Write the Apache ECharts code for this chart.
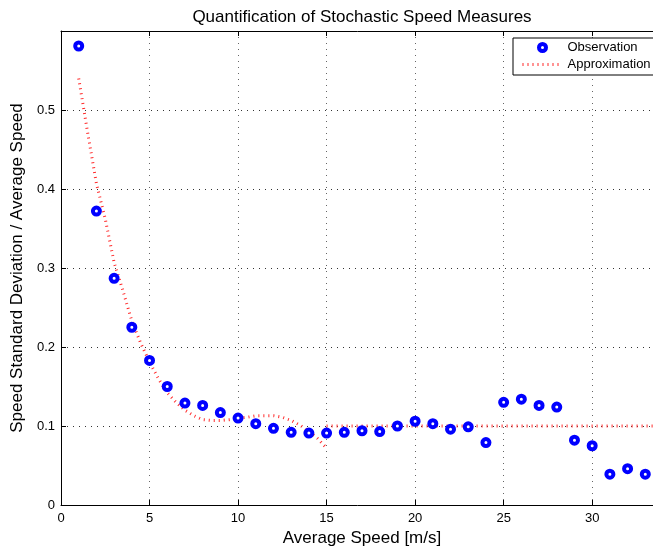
<!DOCTYPE html>
<html>
<head>
<meta charset="utf-8">
<script src="https://cdn.jsdelivr.net/npm/echarts@6/dist/echarts.min.js"></script>
<style>html,body{margin:0;padding:0;background:#fff}#c{width:653px;height:548px}</style>
</head>
<body>
<div id="c"></div>
<script>
// ---- data ----
const titleText = 'Quantification of Stochastic Speed Measures';
const xName = 'Average Speed [m/s]';
const yName = 'Speed Standard Deviation / Average Speed';
const xTicks = [0, 5, 10, 15, 20, 25, 30];
const yTicks = [0, 0.1, 0.2, 0.3, 0.4, 0.5];

const obsX = [1,2,3,4,5,6,7,8,9,10,11,12,13,14,15,16,17,18,19,20,21,22,23,24,25,26,27,28,29,30,31,32,33];
const obsY = [0.581,0.372,0.287,0.225,0.183,0.150,0.129,0.126,0.117,0.110,0.103,0.097,0.092,0.091,0.091,0.092,0.094,0.093,0.100,0.106,0.103,0.096,0.099,0.079,0.130,0.134,0.126,0.124,0.082,0.075,0.039,0.046,0.039];

const approxX = [1,1.5,2,2.5,3,3.5,4,4.5,5,5.5,6,6.5,7,7.5,8,8.5,9,9.5,10,10.5,11,11.5,12,12.5,13,13.5,14,14.5,15];
const approxY = [0.540,0.472,0.407,0.362,0.307,0.271,0.233,0.205,0.181,0.160,0.142,0.130,0.120,0.113,0.108,0.107,0.107,0.108,0.110,0.111,0.113,0.113,0.113,0.111,0.107,0.101,0.093,0.084,0.072];
const flatX = [15, 34];
const flatY = [0.1, 0.1];

const FONT = 'Liberation Sans, Arial, Helvetica, sans-serif';
const xMin = 0, xMax = 34, yMin = 0, yMax = 0.6;
const RED = '#ff2a2a';

const chart = echarts.init(document.getElementById('c'), null, {renderer: 'canvas'});
const zip = (a, b) => a.map((v, i) => [v, b[i]]);

chart.setOption({
  animation: false,
  backgroundColor: '#fff',
  title: {
    text: titleText,
    left: 362, top: 9, padding: 0, textAlign: 'center',
    textStyle: {fontFamily: FONT, fontSize: 17, fontWeight: 'normal', color: '#000'}
  },
  grid: {left: 61, right: -10, top: 31, bottom: 43, containLabel: false, outerBoundsMode: 'none'},
  legend: {
    orient: 'vertical',
    left: 513, top: 38,
    padding: [3, 8, 4, 8],
    itemWidth: 40, itemHeight: 7, itemGap: 4,
    backgroundColor: '#fff', borderColor: '#000', borderWidth: 1, borderRadius: 0,
    textStyle: {fontFamily: FONT, fontSize: 13, color: '#000'},
    data: [
      {name: 'Observation', icon: 'circle', itemStyle: {color: '#fff', borderColor: '#0000ff', borderWidth: 4}},
      {name: 'Approximation', itemStyle: {color: 'transparent', borderColor: 'transparent', borderWidth: 0, opacity: 0},
       lineStyle: {color: RED, width: 3, type: [1, 4], opacity: 1}}
    ]
  },
  xAxis: [{
    type: 'value', min: xMin, max: xMax, interval: 5,
    name: xName, nameLocation: 'middle', nameGap: 21,
    nameTextStyle: {fontFamily: FONT, fontSize: 17, color: '#000'},
    axisLine: {show: true, onZero: false, lineStyle: {color: '#000', width: 1}},
    axisTick: {show: true, inside: true, length: 5, lineStyle: {color: '#000'}},
    axisLabel: {fontFamily: FONT, fontSize: 13, color: '#000', margin: 7,
      formatter: v => xTicks.includes(v) ? String(v) : ''},
    splitLine: {show: true, lineStyle: {color: '#666', type: [1, 5], width: 1}}
  }, {
    type: 'value', min: xMin, max: xMax, interval: 5, position: 'top',
    axisLine: {show: true, onZero: false, lineStyle: {color: '#000', width: 1}},
    axisTick: {show: true, inside: true, length: 5, lineStyle: {color: '#000'}},
    axisLabel: {show: false}, splitLine: {show: false}
  }],
  yAxis: [{
    type: 'value', min: yMin, max: yMax, interval: 0.1,
    name: yName, nameLocation: 'middle', nameGap: 29, nameRotate: 90,
    nameTextStyle: {fontFamily: FONT, fontSize: 17, color: '#000'},
    axisLine: {show: true, onZero: false, lineStyle: {color: '#000', width: 1}},
    axisTick: {show: true, inside: true, length: 5, lineStyle: {color: '#000'}},
    axisLabel: {fontFamily: FONT, fontSize: 13, color: '#000', margin: 6,
      formatter: v => { const r = Math.round(v * 10) / 10; return yTicks.includes(r) && Math.abs(v - r) < 1e-9 ? String(r) : ''; }},
    splitLine: {show: true, lineStyle: {color: '#333', type: [1, 5], width: 1}}
  }],
  series: [{
    name: 'Approximation', type: 'line', data: zip(approxX, approxY),
    symbol: 'none', smooth: false, z: 2,
    itemStyle: {color: RED},
    lineStyle: {color: RED, width: 3, type: [1, 4]}
  }, {
    name: 'Approximation', type: 'line', data: zip(flatX, flatY),
    symbol: 'none', z: 2,
    itemStyle: {color: RED},
    lineStyle: {color: RED, width: 3, type: [1, 4]}
  }, {
    name: 'Observation', type: 'scatter', data: zip(obsX, obsY),
    symbol: 'circle', symbolSize: 7, z: 3,
    itemStyle: {color: '#fff', borderColor: '#0000ff', borderWidth: 4, opacity: 1}
  }]
});
</script>
</body>
</html>
